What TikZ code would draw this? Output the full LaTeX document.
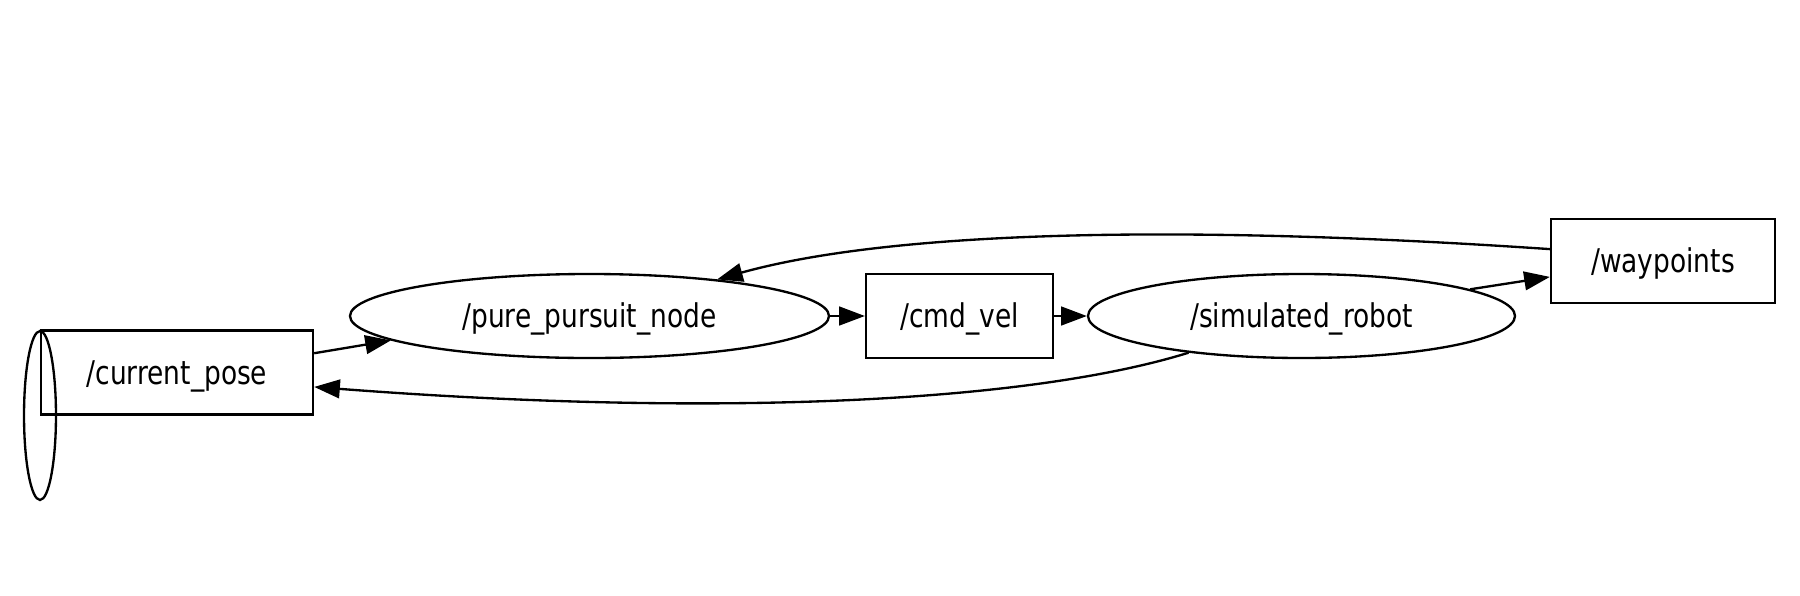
\documentclass[tikz,border=0pt]{standalone}
\usepackage{fontspec}
\setmainfont[FakeStretch=0.9]{DejaVu Sans Condensed}
\usepackage{tikz}
\usetikzlibrary{shapes.geometric,arrows.meta}

\begin{document}
\begin{tikzpicture}[
  x=0.42857pt, y=-0.42857pt,
  topic/.style={draw, line width=1pt, minimum height=36pt, inner sep=0pt, text height=10.5pt, text depth=0.3pt, font=\fontsize{14}{16}\selectfont},
  rosnode/.style={draw, ellipse, line width=1pt, minimum height=36pt, inner sep=0pt, text height=10.5pt, text depth=0.3pt, font=\fontsize{14}{16}\selectfont},
  arrow/.style={-{Triangle[length=11pt, width=8pt]}, line width=1pt}
]
  \useasboundingbox (0,0) rectangle (1800,595);

  \node[topic, minimum width=116.6pt] (cp) at (177,372.5) {/current\_pose};
  \node[draw, ellipse, line width=1pt, minimum width=13.7pt, minimum height=72.4pt, inner sep=0pt] (cpcap) at (40,415.5) {};
  \node[rosnode, minimum width=205.3pt] (pp) at (589.5,316) {/pure\_pursuit\_node};
  \node[topic, minimum width=80.1pt] (cv) at (959.5,316) {/cmd\_vel};
  \node[rosnode, minimum width=183pt] (sr) at (1301.5,316) {/simulated\_robot};
  \node[topic, minimum width=96pt] (wp) at (1663,261) {/waypoints};

  \draw[arrow] (cp.8) -- (pp.187);
  \draw[arrow] (pp.east) -- (cv.west);
  \draw[arrow] (cv.east) -- (sr.west);
  \draw[arrow] (sr.9) -- (wp.188);
  \draw[arrow] (wp.174) .. controls (1150,222) and (880,234) .. (pp.16);
  \draw[arrow] (sr.198) .. controls (1030,402) and (720,418) .. (cp.354);
\end{tikzpicture}
\end{document}
